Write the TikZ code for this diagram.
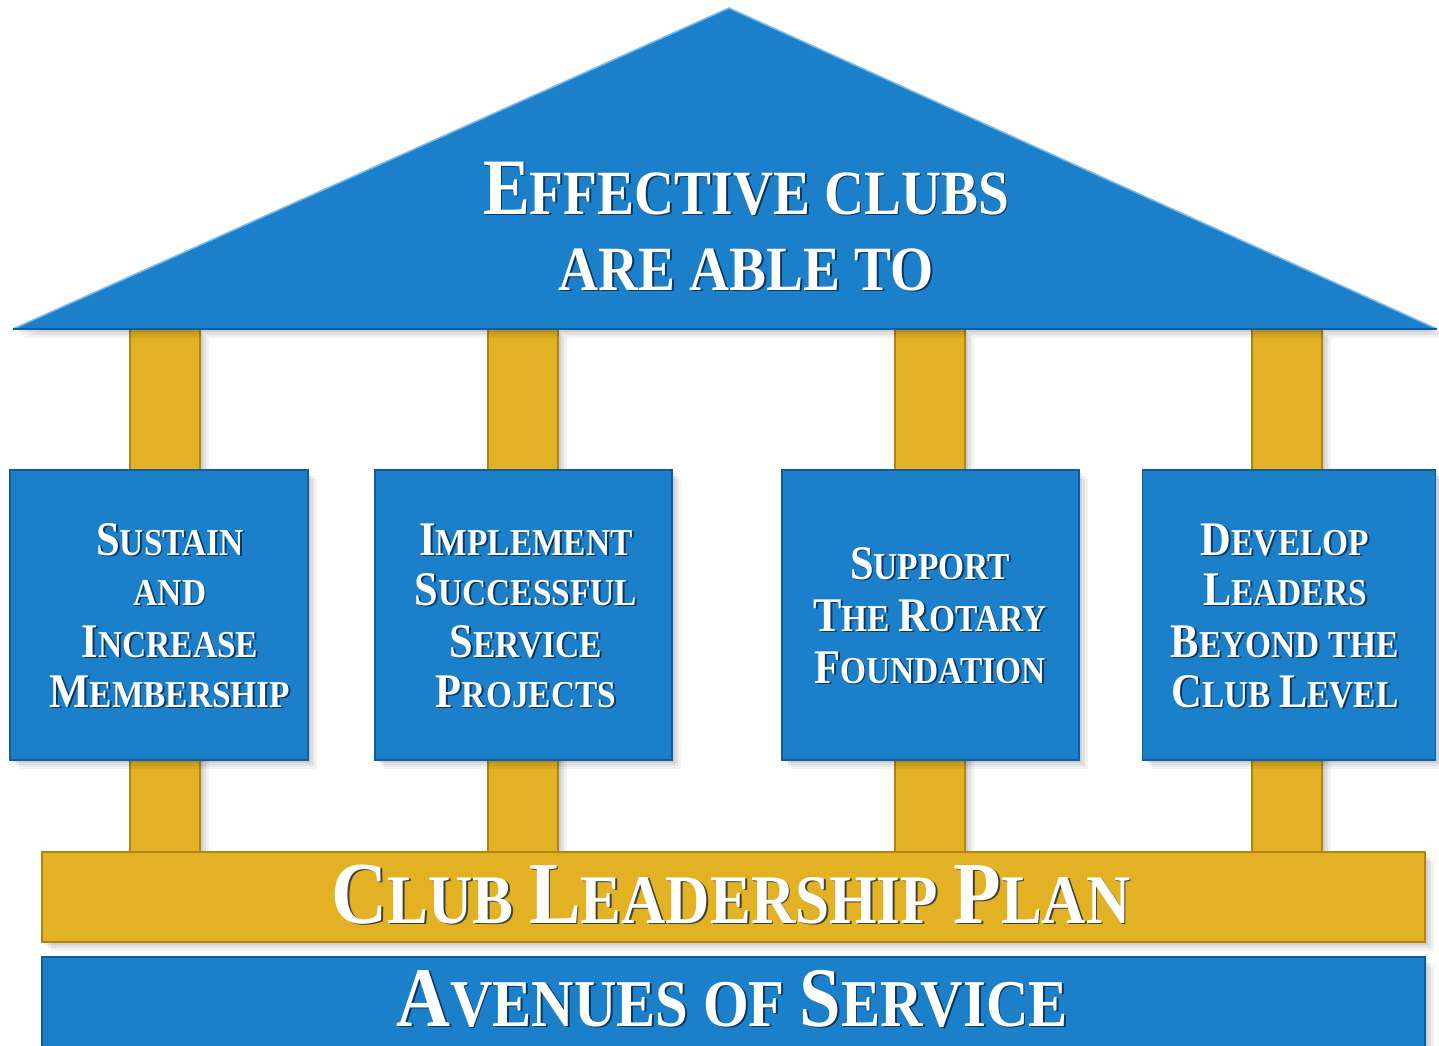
\documentclass[tikz,border=0pt]{standalone}
\usepackage{fontspec}
\usepackage{graphicx}
\newfontfamily\tf{Liberation Serif}[FakeStretch=0.88]
\usetikzlibrary{shadows}
\definecolor{bM}{RGB}{27,128,201}
\definecolor{bD}{RGB}{16,92,160}
\definecolor{bL}{RGB}{120,185,235}
\definecolor{yM}{RGB}{226,178,36}
\definecolor{yD}{RGB}{178,132,18}
\definecolor{tsh}{RGB}{8,30,60}
\newcommand\C[1]{\scalebox{1.27}{#1}}
\newcommand\tline[5]{%
  \node[#1, text=tsh, opacity=0.75] (#2s) at ([shift={(0.9pt,-0.9pt)}]#3,#4) {#5};
  \node[#1] (#2) at (#3,#4) {#5};}
\begin{document}
\begin{tikzpicture}[x=0.5pt,y=-0.5pt,
  soft/.style={
    general shadow={shadow xshift=1.5pt,shadow yshift=-1.5pt,fill=black,opacity=0.08},
    general shadow={shadow xshift=3pt,shadow yshift=-3pt,fill=black,opacity=0.07},
    general shadow={shadow xshift=4.5pt,shadow yshift=-4.5pt,fill=black,opacity=0.05}},
  sz/.style 2 args={minimum width=#1*0.5pt, minimum height=#2*0.5pt},
  boxS/.style={draw=bD, line width=0.8pt, fill=bM, inner sep=0pt, outer sep=0pt, soft},
  pil/.style={draw=yD, line width=0.7pt, fill=yM, inner sep=0pt, outer sep=0pt, soft},
  roofS/.style={fill=bM, soft},
  rt/.style={text=white, inner sep=0pt, anchor=base, font={\tf\bfseries\fontsize{31.5}{31.5}\selectfont}},
  bt/.style={text=white, inner sep=0pt, anchor=base, font={\tf\bfseries\fontsize{19}{19}\selectfont}},
  lt/.style={text=white, inner sep=0pt, anchor=base, font={\tf\bfseries\fontsize{34.8}{34.8}\selectfont}},
  avt/.style={text=white, inner sep=0pt, anchor=base, font={\tf\bfseries\fontsize{33.4}{33.4}\selectfont}}
]
\path[use as bounding box] (0,0) rectangle (1439,1045);
\clip (0,0) rectangle (1439,1045);
% pillars
\node[pil, sz={70}{523}] (p1) at (165,590.5) {};
\node[pil, sz={70}{523}] (p2) at (523,590.5) {};
\node[pil, sz={70}{523}] (p3) at (930,590.5) {};
\node[pil, sz={70}{523}] (p4) at (1287,590.5) {};
% roof
\coordinate (apex) at (729,8);
\coordinate (rl) at (13,329);
\coordinate (rr) at (1437,329);
\fill[roofS] (apex) -- (rl) -- (rr) -- cycle;
\draw[bL, line width=0.8pt] (rl) -- (apex) -- (rr);
\draw[bD, line width=1pt] (rl) -- (rr);
% boxes
\node[boxS, sz={298}{290}] (b1) at (159,615) {};
\node[boxS, sz={297}{290}] (b2) at (523.5,615) {};
\node[boxS, sz={297}{290}] (b3) at (930.5,615) {};
\node[boxS, sz={293}{290}] (b4) at (1289,615) {};
% bars
\node[pil, sz={1383}{90}] (clp) at (733.5,897) {};
\node[boxS, sz={1383}{110}] (aos) at (733.5,1012) {};
% roof text
\tline{rt}{r1}{746}{214}{\C{E}FFECTIVE CLUBS}
\tline{rt}{r2}{746}{290}{ARE ABLE TO}
% box 1
\tline{bt}{a1}{170}{555}{\C{S}USTAIN}
\tline{bt}{a2}{170}{605}{AND}
\tline{bt}{a3}{170}{657}{\C{I}NCREASE}
\tline{bt}{a4}{170}{707}{\C{M}EMBERSHIP}
% box 2
\tline{bt}{c1}{526}{555}{\C{I}MPLEMENT}
\tline{bt}{c2}{526}{605}{\C{S}UCCESSFUL}
\tline{bt}{c3}{526}{657}{\C{S}ERVICE}
\tline{bt}{c4}{526}{707}{\C{P}ROJECTS}
% box 3
\tline{bt}{d1}{930}{579}{\C{S}UPPORT}
\tline{bt}{d2}{930}{631}{\C{T}HE \C{R}OTARY}
\tline{bt}{d3}{930}{683}{\C{F}OUNDATION}
% box 4
\tline{bt}{e1}{1285}{555}{\C{D}EVELOP}
\tline{bt}{e2}{1285}{605}{\C{L}EADERS}
\tline{bt}{e3}{1285}{657}{\C{B}EYOND THE}
\tline{bt}{e4}{1285}{707}{\C{C}LUB \C{L}EVEL}
% bars text
\tline{lt}{l1}{731}{923}{\C{C}LUB \C{L}EADERSHIP \C{P}LAN}
\tline{avt}{l2}{732}{1026}{\C{A}VENUES OF \C{S}ERVICE}
\end{tikzpicture}
\end{document}
